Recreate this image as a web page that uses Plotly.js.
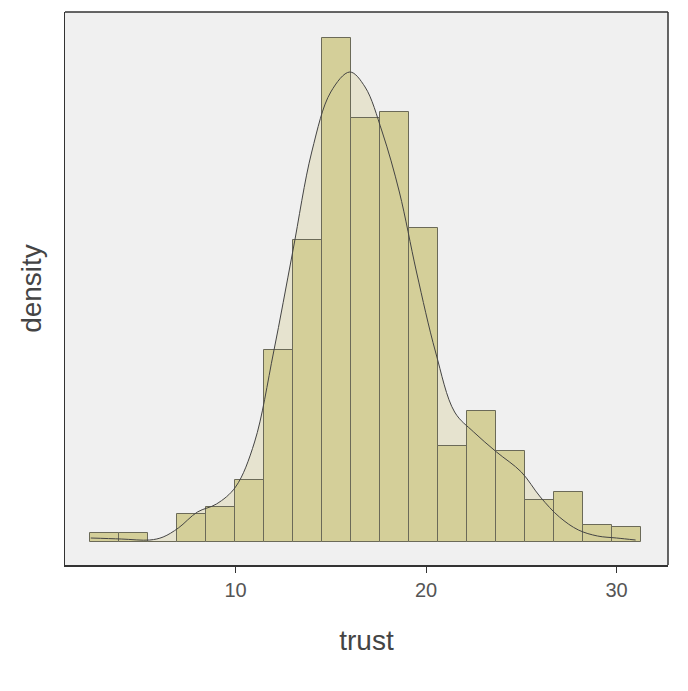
<!DOCTYPE html>
<html>
<head>
<script src="https://cdn.plot.ly/plotly-3.0.1.min.js"></script>
<style>body{margin:0;background:#fff}</style>
</head>
<body>
<div id="chart" style="width:688px;height:691px"></div>
<script>
// histogram bins (left edges) and heights, density in arbitrary units
const binStart = 2.37;
const binWidth = 1.523;
const binCounts = [9, 9, 0, 28, 35, 62, 192, 302, 504, 424, 430, 314, 96, 131, 91, 42, 50, 17, 15];
const binCenters = binCounts.map((_, i) => binStart + binWidth * (i + 0.5));

// kernel density curve
const kdeX = [2.4, 4.0, 5.5, 6.2, 7.0, 8.0, 9.0, 10.0, 11.0, 12.0, 13.0, 14.0, 15.0, 16.0, 16.8, 17.7, 18.6, 19.5, 20.5, 21.5, 22.5, 23.7, 25.0, 26.0, 27.0, 28.0, 29.0, 30.0, 31.0];
const kdeY = [4, 3, 2, 5, 14, 30, 38, 55, 100, 190, 290, 390, 450, 470, 455, 410, 350, 270, 190, 130, 110, 90, 70, 45, 25, 12, 6, 4, 2];

const traces = [
  { x: kdeX, y: kdeY, type: 'scatter', mode: 'lines', fill: 'tozeroy',
    fillcolor: '#e6e3cf', line: { width: 0, shape: 'spline' }, hoverinfo: 'skip' },
  { x: binCenters, y: binCounts, type: 'bar', width: binWidth, yaxis: 'y2',
    marker: { color: '#d4cf99', line: { color: '#6b6a58', width: 1 } } },
  { x: kdeX, y: kdeY, type: 'scatter', mode: 'lines', yaxis: 'y2',
    line: { color: '#444', width: 1, shape: 'spline' } }
];

const yr = [-23, 530];
const layout = {
  width: 688, height: 691,
  margin: { l: 65, r: 20, t: 12, b: 126 },
  paper_bgcolor: '#fff', plot_bgcolor: '#f0f0f0',
  showlegend: false, bargap: 0,
  font: { family: 'Liberation Sans, Arial, sans-serif', color: '#555' },
  xaxis: {
    range: [1.05, 32.7], tickvals: [10, 20, 30], ticks: 'outside', ticklen: 6,
    tickcolor: '#333', tickfont: { size: 20, color: '#555' },
    showgrid: false, zeroline: false, showline: true, linecolor: '#333', linewidth: 2,
    mirror: false, title: { text: 'trust', font: { size: 28, color: '#444' }, standoff: 30 }
  },
  yaxis: {
    range: yr, showticklabels: false, ticks: '', showgrid: false, zeroline: false,
    showline: true, linecolor: '#333', linewidth: 1, mirror: false,
    title: { text: 'density', font: { size: 28, color: '#444' }, standoff: 14 }
  },
  yaxis2: { range: yr, overlaying: 'y', visible: false },
  shapes: [
    { type: 'line', xref: 'paper', yref: 'paper', x0: 1, x1: 1, y0: 0, y1: 1, layer: 'above',
      line: { color: '#333', width: 1.5 } },
    { type: 'line', xref: 'paper', yref: 'paper', x0: 0, x1: 1, y0: 1, y1: 1, layer: 'above',
      line: { color: '#333', width: 1.5 } }
  ]
};

Plotly.newPlot('chart', traces, layout, { displayModeBar: false });
</script>
</body>
</html>
